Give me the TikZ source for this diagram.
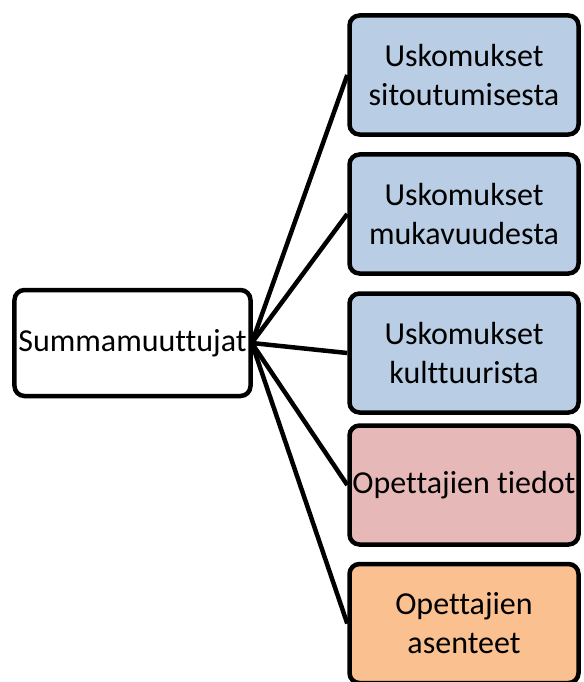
\documentclass[tikz,border=0pt]{standalone}
\usepackage{fontspec}
\setmainfont{Carlito}[Ligatures={NoCommon}]
\definecolor{boxblue}{HTML}{B9CDE5}
\definecolor{boxpink}{HTML}{E6B9B8}
\definecolor{boxorange}{HTML}{FAC090}
\tikzset{
  basebox/.style={draw=black, line width=4.5bp, rounded corners=10bp, align=center,
    font=\fontsize{32bp}{39bp}\selectfont, inner sep=0pt},
  rbox/.style={basebox, minimum width=229bp, minimum height=119bp},
  conn/.style={draw=black, line width=4.5bp}
}
\begin{document}
\begin{tikzpicture}[x=1bp,y=1bp]
\useasboundingbox (0,0) rectangle (584,-682);
\node[basebox, fill=white, minimum width=236bp, minimum height=106bp] (s) at (132.5,-343) {Summamuuttujat};
\node[rbox, fill=boxblue] (b1) at (464,-75) {Uskomukset\\sitoutumisesta};
\node[rbox, fill=boxblue] (b2) at (464,-214) {Uskomukset\\mukavuudesta};
\node[rbox, fill=boxblue] (b3) at (464,-353) {Uskomukset\\kulttuurista};
\node[rbox, fill=boxpink] (b4) at (464,-485) {Opettajien tiedot};
\node[rbox, fill=boxorange] (b5) at (464,-623.5) {Opettajien\\asenteet};
\foreach \b in {b1,b2,b3,b4,b5}
  \draw[conn] ([xshift=-1bp]s.east) -- (\b.west);
\end{tikzpicture}
\end{document}
